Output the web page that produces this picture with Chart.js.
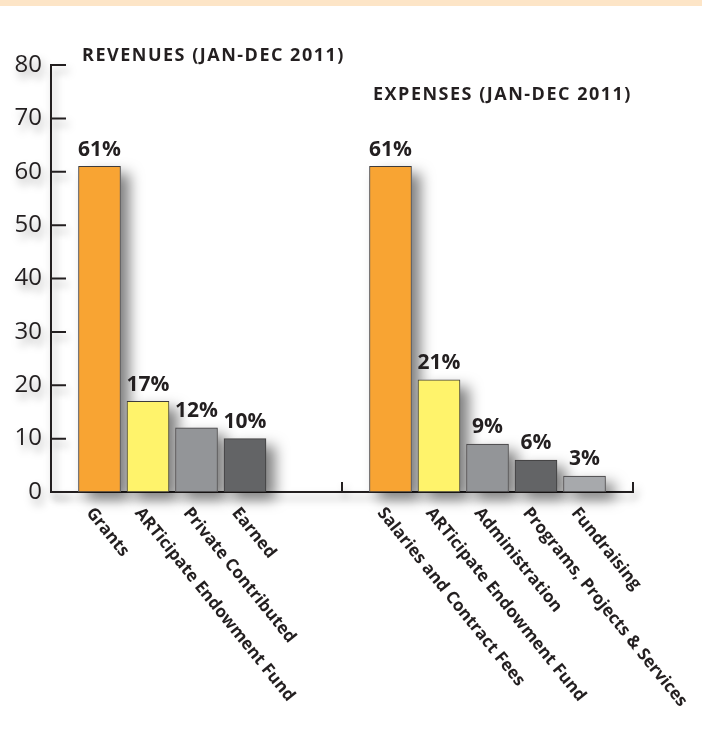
<!DOCTYPE html>
<html lang="en">
<head>
<meta charset="UTF-8">
<title>Revenues and Expenses 2011</title>
<script src="https://cdn.jsdelivr.net/npm/chart.js@4.4.1/dist/chart.umd.min.js"></script>
<style>
  body { margin: 0; background: #fff; font-family: 'Open Sans', sans-serif; }
  .wrap { position: relative; width: 702px; height: 736px; overflow: hidden; }
  .band { position: absolute; left: 0; top: 0; width: 702px; height: 6px; background: #fde5c7; z-index: 2; }
  .title { position: absolute; font-weight: 700; font-size: 18px; letter-spacing: 1.5px; color: #231f20; white-space: nowrap; z-index: 2; }
  #revTitle { left: 82px; top: 42px; }
  #expTitle { left: 373px; top: 81px; }
  canvas { position: absolute; left: 0; top: 0; }
</style>
</head>
<body>
<div class="wrap">
  <div class="band"></div>
  <div class="title" id="revTitle">REVENUES (JAN-DEC 2011)</div>
  <div class="title" id="expTitle">EXPENSES (JAN-DEC 2011)</div>
  <canvas id="budgetChart" width="702" height="736"></canvas>
</div>

<script>
  const revenueLabels = ['Grants', 'ARTicipate Endowment Fund', 'Private Contributed', 'Earned'];
  const revenueValues = [61, 17, 12, 10];
  const revenueColors = ['#f8a433', '#fff36b', '#939598', '#636466'];

  const expenseLabels = ['Salaries and Contract Fees', 'ARTicipate Endowment Fund', 'Administration', 'Programs, Projects & Services', 'Fundraising'];
  const expenseValues = [61, 21, 9, 6, 3];
  const expenseColors = ['#f8a433', '#fff36b', '#939598', '#636466', '#a7a9ac'];

  const yMax = 80;
  const yStep = 10;

  // one category axis: blank, revenues, two blanks, expenses, blank
  const blank = n => Array(n).fill(null);
  const labels = ['', ...revenueLabels, '', '', ...expenseLabels, ''];
  const sepIndex = 1 + revenueLabels.length + 1;
  const revData = [null, ...revenueValues, ...blank(expenseLabels.length + 3)];
  const expData = [...blank(revenueLabels.length + 3), ...expenseValues, null];
  const revBg = [null, ...revenueColors, ...blank(expenseLabels.length + 3)];
  const expBg = [...blank(revenueLabels.length + 3), ...expenseColors, null];

  const ink = '#231f20';

  const decor = {
    id: 'decor',
    beforeDraw(chart) {
      const c = chart.ctx;
      c.save();
      c.shadowColor = 'rgba(0,0,0,0.35)';
      c.shadowBlur = 9;
      c.shadowOffsetX = 3;
      c.shadowOffsetY = 6;
    },
    beforeDatasetsDraw(chart) {
      const c = chart.ctx, x = chart.scales.x, y = chart.scales.y, area = chart.chartArea;
      c.strokeStyle = ink;
      c.lineWidth = 2;
      c.beginPath();
      y.ticks.forEach(t => {
        const py = y.getPixelForValue(t.value);
        c.moveTo(area.left, py);
        c.lineTo(area.left + 15, py);
      });
      [sepIndex, labels.length - 1].forEach(i => {
        const px = x.getPixelForValue(i);
        c.moveTo(px, area.bottom);
        c.lineTo(px, area.bottom - 10);
      });
      c.stroke();

      // drop shadows behind the bars (the bar element clips its own shadow)
      c.shadowColor = 'rgba(0,0,0,0.5)';
      c.shadowBlur = 14;
      c.shadowOffsetX = 9;
      c.shadowOffsetY = 7;
      c.fillStyle = '#ffffff';
      chart.data.datasets.forEach((ds, di) => {
        chart.getDatasetMeta(di).data.forEach((bar, i) => {
          if (ds.data[i] == null) return;
          const p = bar.getProps(['x', 'y', 'base', 'width'], true);
          c.fillRect(p.x - p.width / 2, p.y, p.width, p.base - p.y);
        });
      });
      c.restore();
    },
    afterDatasetsDraw(chart) {
      const c = chart.ctx, area = chart.chartArea;

      // value labels
      c.save();
      c.fillStyle = ink;
      c.font = '700 21px "Open Sans"';
      c.textAlign = 'center';
      c.textBaseline = 'bottom';
      chart.data.datasets.forEach((ds, di) => {
        chart.getDatasetMeta(di).data.forEach((bar, i) => {
          if (ds.data[i] == null) return;
          c.fillText(ds.data[i] + '%', bar.x, bar.y - 6);
        });
      });

      // rotated category labels
      c.font = '700 17px "Open Sans"';
      c.textAlign = 'left';
      c.textBaseline = 'middle';
      labels.forEach((lab, i) => {
        if (!lab) return;
        const px = chart.scales.x.getPixelForValue(i);
        c.save();
        c.translate(px - 10, area.bottom + 18);
        c.rotate(51 * Math.PI / 180);
        c.fillText(lab, 0, 0);
        c.restore();
      });
      c.restore();
    }
  };

  const barStyle = {
    borderColor: '#3d3b3c',
    borderWidth: 1,
    borderSkipped: false,
    barThickness: 42,
    grouped: false,
    clip: false
  };

  new Chart(document.getElementById('budgetChart'), {
    type: 'bar',
    data: {
      labels: labels,
      datasets: [
        { label: 'Revenues', data: revData, backgroundColor: revBg, ...barStyle },
        { label: 'Expenses', data: expData, backgroundColor: expBg, ...barStyle }
      ]
    },
    options: {
      responsive: false,
      animation: false,
      layout: { padding: { top: 65, right: 69, bottom: 0, left: 0 } },
      plugins: {
        legend: { display: false },
        tooltip: { enabled: false }
      },
      scales: {
        x: {
          type: 'category',
          offset: false,
          grid: { display: false, drawTicks: false },
          border: { display: true, color: ink, width: 2 },
          ticks: { display: false },
          afterFit: s => { s.height = 244; }
        },
        y: {
          min: 0,
          max: yMax,
          grid: { display: false, drawTicks: false },
          border: { display: true, color: ink, width: 2 },
          ticks: {
            stepSize: yStep,
            color: ink,
            padding: 9,
            font: { family: 'Open Sans', size: 24, weight: '400' }
          },
          afterFit: s => { s.width = 51; }
        }
      }
    },
    plugins: [decor]
  });
</script>
</body>
</html>
